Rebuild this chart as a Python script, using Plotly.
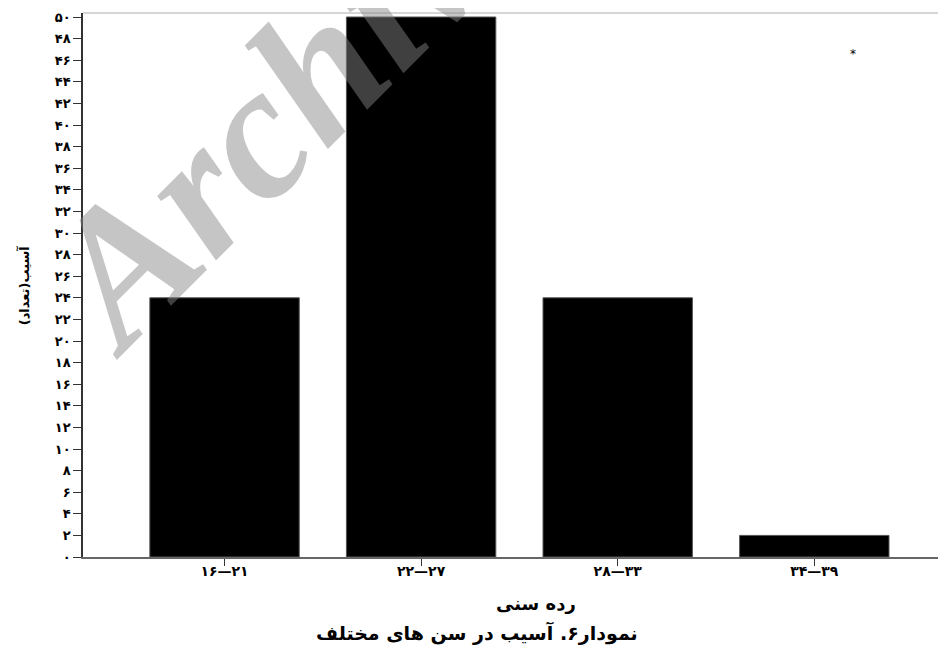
import plotly.graph_objects as go

categories = ["۱۶—۲۱", "۲۲—۲۷", "۲۸—۳۳", "۳۴—۳۹"]
values = [24, 50, 24, 2]
y_tick_vals = list(range(0, 52, 2))
fa_digits = "۰۱۲۳۴۵۶۷۸۹"
y_tick_text = ["".join(fa_digits[int(c)] for c in str(v)) for v in y_tick_vals]

FONT = "DejaVu Sans"

fig = go.Figure()
fig.add_trace(go.Bar(
    x=list(range(len(categories))), y=values,
    marker=dict(color="black", line=dict(color="#555555", width=1)),
    width=0.76,
))

fig.update_layout(
    width=938, height=641,
    margin=dict(l=75, r=0, t=5, b=92),
    plot_bgcolor="white", paper_bgcolor="white",
    showlegend=False,
    xaxis=dict(
        range=[-0.72, 3.67], tickvals=list(range(len(categories))), ticktext=categories,
        showgrid=False, zeroline=False, showline=True, linecolor="#666666", linewidth=1.5,
        ticks="outside", ticklen=7, tickcolor="#333333", ticklabelstandoff=-7,
        tickfont=dict(family=FONT, size=14, color="black", weight="bold"),
    ),
    yaxis=dict(
        range=[0, 50.37], tickvals=y_tick_vals, ticktext=y_tick_text,
        showgrid=False, zeroline=False, showline=True, linecolor="#333333", linewidth=1.5,
        ticks="outside", ticklen=8, tickcolor="#333333",
        tickfont=dict(family=FONT, size=13, color="black", weight="bold"),
    ),
    shapes=[dict(type="line", xref="paper", yref="paper", x0=0, x1=1, y0=1, y1=1,
                 line=dict(color="#c8c8c8", width=1.5))],
    annotations=[
        dict(text="آسیب(تعداد)", xref="paper", yref="paper", x=-0.068, y=0.5,
             textangle=-90, showarrow=False, xanchor="center", yanchor="middle",
             font=dict(family=FONT, size=13, color="black", weight="bold")),
        dict(text="رده سنی", xref="paper", yref="paper", x=0.525, y=-0.085,
             showarrow=False, xanchor="center", yanchor="middle",
             font=dict(family=FONT, size=18, color="black", weight="bold")),
        dict(text="نمودار۶. آسیب در سن های مختلف", xref="paper", yref="paper", x=0.457, y=-0.14,
             showarrow=False, xanchor="center", yanchor="middle",
             font=dict(family=FONT, size=19, color="black", weight="bold")),
        dict(text="*", xref="paper", yref="paper", x=0.892, y=0.924,
             showarrow=False, xanchor="center", yanchor="middle",
             font=dict(family=FONT, size=12, color="black")),
        dict(text="<i>Archive</i>", xref="paper", yref="paper", x=0.241, y=0.85,
             textangle=-45, showarrow=False, xanchor="center", yanchor="middle",
             font=dict(family="Liberation Serif", size=190, color="rgba(133,133,133,0.48)", weight="bold")),
    ],
)

fig.write_html("out.html")
